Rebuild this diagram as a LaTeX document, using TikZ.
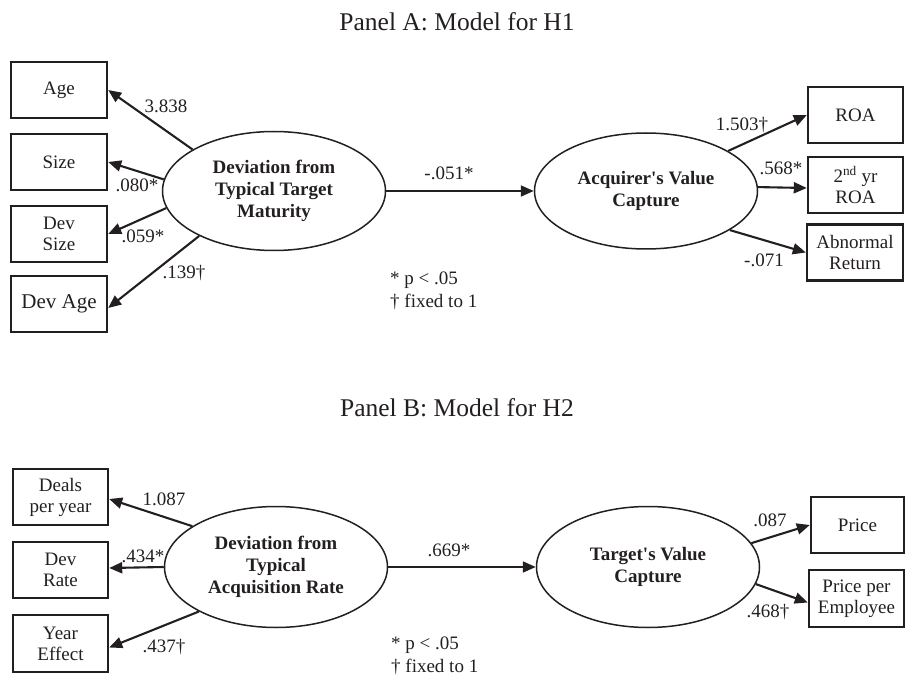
\documentclass[tikz,border=0pt]{standalone}
\usepackage{fontspec}
\setmainfont{Liberation Serif}
\usetikzlibrary{arrows.meta,shapes.geometric}
\definecolor{ink}{RGB}{35,31,32}
\begin{document}
\begin{tikzpicture}[x=1pt,y=-1pt,
  ink/.style={color=ink},
  obs/.style={draw=ink,line width=2.4pt,minimum width=96pt,minimum height=56pt,inner sep=0pt,align=center,
    font=\fontsize{19}{21}\selectfont,text=ink},
  lat/.style={draw=ink,ellipse,line width=1.5pt,minimum width=223pt,minimum height=119pt,inner sep=0pt,align=center,
    font=\fontsize{19}{22}\selectfont\bfseries,text=ink},
  lbl/.style={inner sep=0pt,font=\fontsize{19}{21}\selectfont,text=ink},
  note/.style={inner sep=0pt,anchor=west,align=left,font=\fontsize{19}{22}\selectfont,text=ink},
  ttl/.style={inner sep=0pt,font=\fontsize{25.5}{28}\selectfont,text=ink},
  arr/.style={draw=ink,line width=2.1pt,-{Triangle[length=13pt,width=11pt]}},
  marr/.style={draw=ink,line width=1.8pt,-{Triangle[length=13pt,width=11pt]}}]
\useasboundingbox (0,0) rectangle (905,679);

% Panel A
\node[ttl] (ta) at (457,22) {Panel A: Model for H1};
\node[obs] (age) at (59,90) {Age};
\node[obs] (size) at (59,162) {Size};
\node[obs] (dsize) at (59,234) {Dev\\Size};
\node[obs,font=\fontsize{21}{23}\selectfont] (dage) at (59,304) {\raisebox{-4pt}{Dev Age}};
\node[lat] (e1) at (274,191) {Deviation from\\Typical Target\\Maturity};
\node[lat,minimum height=116pt] (e2) at (646,191) {Acquirer\textquotesingle s Value\\Capture};
\node[obs,minimum width=95pt] (roa) at (855.5,115) {ROA};
\node[obs,minimum width=95pt] (roa2) at (855.5,185) {2\textsuperscript{nd} yr\\ROA};
\node[obs,minimum width=96pt] (abn) at (855,252.5) {Abnormal\\Return};

\draw[arr] (e1.153) -- (age.east);
\draw[arr] (e1.174) -- (size.east);
\draw[arr] (e1.189.5) -- (dsize.east);
\draw[arr] (e1.211) -- ([yshift=-4pt]dage.east);
\draw[marr] (e1.east) -- (e2.west);
\draw[arr] (e2.26) -- (roa.west);
\draw[arr] (e2.2) -- ([yshift=-3pt]roa2.west);
\draw[arr] (e2.-25) -- (abn.west);

\node[lbl] (l1) at (166,106) {3.838};
\node[lbl] (l2) at (137,185) {.080*};
\node[lbl] (l3) at (143,236) {.059*};
\node[lbl] (l4) at (184,273) {.139\textdagger};
\node[lbl] (l5) at (449,173) {-.051*};
\node[lbl] (l6) at (742,125) {1.503\textdagger};
\node[lbl] (l7) at (781,168) {.568*};
\node[lbl] (l8) at (764,260) {-.071};
\node[note] (na1) at (390,280) {* p {<} .05};
\node[note] (na2) at (390,302) {\textdagger{} fixed to 1};

% Panel B
\node[ttl] (tb) at (457,408) {Panel B: Model for H2};
\node[obs,minimum width=95pt] (deals) at (60.5,497) {Deals\\per year};
\node[obs,minimum width=95pt] (drate) at (60.5,570) {Dev\\Rate};
\node[obs,minimum width=95pt,minimum height=57pt] (yeff) at (60.5,643.5) {Year\\Effect};
\node[lat,minimum height=121pt] (e3) at (276,567) {Deviation from\\Typical\\Acquisition Rate};
\node[lat,minimum height=121pt] (e4) at (648,567) {Target\textquotesingle s Value\\Capture};
\node[obs,minimum width=93pt] (price) at (857.5,525) {Price};
\node[obs,minimum width=95pt,minimum height=57pt] (ppe) at (856.5,598.5) {Price per\\Employee};

\draw[arr] (e3.154) -- ([yshift=-2pt]deals.east);
\draw[arr] (e3.west) -- ([yshift=2pt]drate.east);
\draw[arr] (e3.210) -- ([yshift=-4pt]yeff.east);
\draw[marr] (e3.east) -- (e4.west);
\draw[arr] (e4.13) -- (price.west);
\draw[arr] (e4.-9) -- ([yshift=-4pt]ppe.west);

\node[lbl] (m1) at (164,499) {1.087};
\node[lbl] (m2) at (143,556) {.434*};
\node[lbl] (m3) at (164,647) {.437\textdagger};
\node[lbl] (m4) at (449,550) {.669*};
\node[lbl] (m5) at (770,520) {.087};
\node[lbl] (m6) at (768,612) {.468\textdagger};
\node[note] (nb1) at (391,645) {* p {<} .05};
\node[note] (nb2) at (391,667) {\textdagger{} fixed to 1};
\end{tikzpicture}
\end{document}
